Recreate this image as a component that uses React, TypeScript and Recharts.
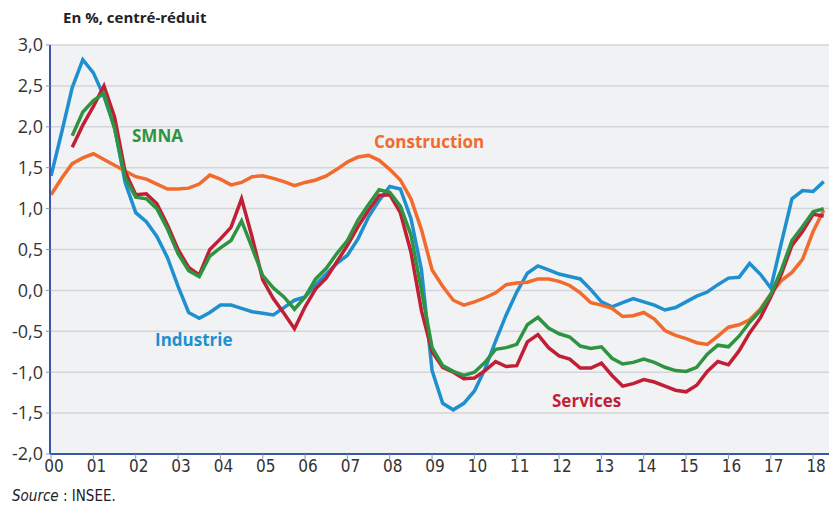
import React from "react";
import {
  CartesianGrid,
  Line,
  LineChart,
  XAxis,
  YAxis,
} from "recharts";

// trimestres 2000T1 .. 2018T2
const years = [
  "00", "01", "02", "03", "04", "05", "06", "07", "08", "09",
  "10", "11", "12", "13", "14", "15", "16", "17", "18",
];

const yTicks = [-2, -1.5, -1, -0.5, 0, 0.5, 1, 1.5, 2, 2.5, 3];

const industrie = [
  1.4, 1.93, 2.48, 2.82, 2.66, 2.37, 1.99, 1.32, 0.95, 0.84,
  0.66, 0.4, 0.05, -0.27, -0.34, -0.27, -0.18, -0.18, -0.22, -0.26,
  -0.28, -0.3, -0.21, -0.12, -0.08, 0.07, 0.2, 0.33, 0.43, 0.63,
  0.9, 1.1, 1.27, 1.24, 0.88, 0.25, -0.98, -1.38, -1.46, -1.38,
  -1.23, -0.96, -0.62, -0.3, -0.02, 0.21, 0.3, 0.25, 0.2, 0.17,
  0.14, 0.01, -0.14, -0.2, -0.15, -0.1, -0.14, -0.18, -0.24, -0.21,
  -0.14, -0.07, -0.02, 0.07, 0.15, 0.16, 0.33, 0.2, 0.03, 0.58,
  1.12, 1.22, 1.21, 1.33,
];

const construction = [
  1.17, 1.37, 1.55, 1.62, 1.67, 1.6, 1.53, 1.46, 1.39, 1.36,
  1.3, 1.24, 1.24, 1.25, 1.3, 1.41, 1.36, 1.29, 1.32, 1.39,
  1.4, 1.37, 1.33, 1.28, 1.32, 1.35, 1.4, 1.48, 1.57, 1.63,
  1.65, 1.59, 1.48, 1.35, 1.12, 0.74, 0.25, 0.05, -0.12, -0.18,
  -0.14, -0.09, -0.03, 0.07, 0.09, 0.1, 0.14, 0.14, 0.11, 0.06,
  -0.03, -0.15, -0.18, -0.22, -0.32, -0.31, -0.27, -0.35, -0.49, -0.55,
  -0.59, -0.64, -0.66, -0.56, -0.45, -0.42, -0.36, -0.23, -0.04, 0.12,
  0.22, 0.38, 0.72, 0.98,
];

const smna = [
  null, null, 1.89, 2.18, 2.32, 2.41, 1.98, 1.38, 1.14, 1.12,
  1.0, 0.75, 0.45, 0.24, 0.17, 0.42, 0.52, 0.61, 0.85, 0.52,
  0.18, 0.03, -0.08, -0.23, -0.08, 0.14, 0.27, 0.45, 0.61, 0.86,
  1.05, 1.23, 1.2, 1.03, 0.68, 0.0, -0.7, -0.92, -0.99, -1.04,
  -1.0, -0.88, -0.72, -0.7, -0.66, -0.42, -0.33, -0.46, -0.53, -0.57,
  -0.68, -0.71, -0.69, -0.83, -0.9, -0.88, -0.84, -0.88, -0.94, -0.98,
  -0.99, -0.94, -0.78, -0.67, -0.69, -0.56, -0.39, -0.25, -0.05, 0.25,
  0.61, 0.78, 0.96, 1.0,
];

const services = [
  null, null, 1.75, 2.02, 2.25, 2.5, 2.12, 1.45, 1.17, 1.18,
  1.06, 0.8, 0.5, 0.28, 0.19, 0.5, 0.63, 0.77, 1.12, 0.65,
  0.13, -0.1, -0.28, -0.47, -0.2, 0.02, 0.15, 0.35, 0.55, 0.78,
  0.98, 1.16, 1.17, 0.95, 0.47, -0.25, -0.75, -0.94, -1.0, -1.08,
  -1.07, -0.98, -0.87, -0.93, -0.92, -0.63, -0.54, -0.7, -0.8, -0.84,
  -0.95, -0.95, -0.89, -1.04, -1.17, -1.14, -1.09, -1.12, -1.17, -1.22,
  -1.24, -1.16, -0.99, -0.87, -0.91, -0.74, -0.52, -0.34, -0.08, 0.2,
  0.55, 0.72, 0.93, 0.91,
];

const data = industrie.map((v, i) => ({
  t: i,
  industrie: v,
  construction: construction[i],
  smna: smna[i],
  services: services[i],
}));

const yearTicks = years.map((_, i) => i * 4);

const BLUE = "#1e8fcf";
const ORANGE = "#f26a2c";
const GREEN = "#2f9442";
const RED = "#c11f36";
const AXIS = "#3a57a7";

const fmt = (v: number) => v.toFixed(1).replace(".", ",");

const XTick = (props: any) => {
  const { x, y, payload } = props;
  return (
    <text
      x={x + 3}
      y={y + 11}
      textAnchor="middle"
      fill="#333"
      fontSize={17}
      fontFamily="'Liberation Sans Narrow', 'DejaVu Sans Condensed', sans-serif"
    >
      {years[payload.value / 4]}
    </text>
  );
};

const labelStyle = (color: string, left: number, top: number): React.CSSProperties => ({
  position: "absolute",
  left,
  top,
  color,
  fontWeight: 700,
  fontSize: 17,
  lineHeight: "20px",
  fontFamily: "'Open Sans', sans-serif",
  whiteSpace: "nowrap",
});

export default function App() {
  return (
    <div
      style={{
        position: "fixed",
        left: 0,
        top: 0,
        width: 829,
        height: 510,
        background: "#fff",
        fontFamily: "'Open Sans', sans-serif",
        overflow: "hidden",
      }}
    >
      <LineChart
        width={829}
        height={510}
        data={data}
        margin={{ top: 45, right: 0, bottom: 0, left: 0 }}
      >
        <CartesianGrid
          vertical={false}
          fill="#f1f2f4"
          stroke="#d4d5d8"
          strokeWidth={1.5}
        />
        <XAxis
          dataKey="t"
          type="number"
          domain={[-0.1, 73.5]}
          ticks={yearTicks}
          interval={0}
          height={56}
          tick={<XTick />}
          tickLine={{ stroke: "#8a93b5", strokeWidth: 1 }}
          tickSize={5}
          axisLine={{ stroke: AXIS, strokeWidth: 2 }}
        />
        <YAxis
          type="number"
          domain={[-2, 3]}
          ticks={yTicks}
          interval={0}
          width={50}
          tickFormatter={fmt}
          tick={{ fill: "#333", fontSize: 18, fontFamily: "'Open Sans', sans-serif" }}
          tickLine={{ stroke: "#8a93b5", strokeWidth: 1 }}
          tickSize={4}
          tickMargin={3}
          axisLine={{ stroke: AXIS, strokeWidth: 2 }}
        />
        <Line
          dataKey="industrie"
          stroke={BLUE}
          strokeWidth={3.5}
          dot={false}
          isAnimationActive={false}
        />
        <Line
          dataKey="construction"
          stroke={ORANGE}
          strokeWidth={3.5}
          dot={false}
          isAnimationActive={false}
        />
        <Line
          dataKey="services"
          stroke={RED}
          strokeWidth={3.5}
          dot={false}
          isAnimationActive={false}
        />
        <Line
          dataKey="smna"
          stroke={GREEN}
          strokeWidth={3.5}
          dot={false}
          isAnimationActive={false}
        />
      </LineChart>

      <div
        style={{
          position: "absolute",
          left: 63,
          top: 7,
          fontWeight: 700,
          fontSize: 15,
          color: "#222",
        }}
      >
        En %, centré-réduit
      </div>
      <div style={labelStyle(GREEN, 132, 126)}>SMNA</div>
      <div style={labelStyle(ORANGE, 374, 132)}>Construction</div>
      <div style={labelStyle(BLUE, 155, 330)}>Industrie</div>
      <div style={labelStyle(RED, 552, 391)}>Services</div>
      <div
        style={{
          position: "absolute",
          left: 12,
          top: 487,
          fontSize: 15,
          color: "#222",
          fontFamily: "'Liberation Sans Narrow', 'DejaVu Sans Condensed', sans-serif",
        }}
      >
        <i>Source</i> : INSEE.
      </div>
    </div>
  );
}
